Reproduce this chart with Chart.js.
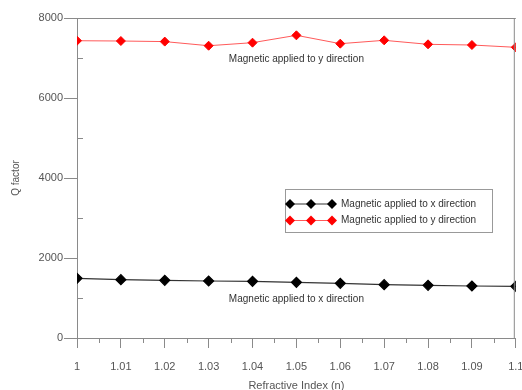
<!DOCTYPE html>
<html>
<head>
<meta charset="utf-8">
<script src="https://cdn.jsdelivr.net/npm/chart.js@4"></script>
<style>
  html, body { margin: 0; padding: 0; background: #fff; }
  #chart { display: block; }
</style>
</head>
<body>
<canvas id="chart" width="522" height="390"></canvas>
<script>
// Data
const refractiveIndex = [1, 1.01, 1.02, 1.03, 1.04, 1.05, 1.06, 1.07, 1.08, 1.09, 1.1];
const qFactorX = [1492, 1458, 1442, 1425, 1417, 1392, 1367, 1333, 1317, 1300, 1292];
const qFactorY = [7432, 7425, 7410, 7307, 7383, 7567, 7358, 7442, 7342, 7325, 7267];
const seriesLabels = ['Magnetic applied to x direction', 'Magnetic applied to y direction'];
const seriesColors = ['#000000', '#ff0000'];
const yMajorTicks = [0, 2000, 4000, 6000, 8000];
const yMinorTicks = [1000, 3000, 5000, 7000];
const xMinorTicks = [1.005, 1.015, 1.025, 1.035, 1.045, 1.055, 1.065, 1.075, 1.085, 1.095];
// annotations: [x value, y value, text]
const notes = [
    [1.05, 6970, 'Magnetic applied to y direction'],
    [1.05, 965, 'Magnetic applied to x direction']
];

const axisColor = '#8a8a8a';
const textColor = '#555';
const fontFamily = '"Liberation Sans", Arial, sans-serif';

function toPoints(ys) {
    return refractiveIndex.map((n, i) => ({ x: n, y: ys[i] }));
}

// Minor ticks, box edges, in-plot notes and the boxed legend
const decor = {
    id: 'decor',
    afterDraw(chart) {
        const ctx = chart.ctx;
        const area = chart.chartArea;
        const xs = chart.scales.x;
        const ys = chart.scales.y;
        ctx.save();
        ctx.strokeStyle = axisColor;
        ctx.lineWidth = 1;

        // top and right edges of the frame
        ctx.beginPath();
        ctx.moveTo(area.left, area.top + 0.5);
        ctx.lineTo(area.right, area.top + 0.5);
        ctx.moveTo(area.right - 1.5, area.top);
        ctx.lineTo(area.right - 1.5, area.bottom);
        ctx.stroke();

        // minor ticks
        ctx.beginPath();
        xMinorTicks.forEach(v => {
            const px = Math.round(xs.getPixelForValue(v)) + 0.5;
            ctx.moveTo(px, area.bottom);
            ctx.lineTo(px, area.bottom + 5);
        });
        yMinorTicks.forEach(v => {
            const py = Math.round(ys.getPixelForValue(v)) + 0.5;
            ctx.moveTo(area.left, py);
            ctx.lineTo(area.left + 6, py);
        });
        ctx.stroke();

        // in-plot notes
        ctx.fillStyle = '#333';
        ctx.font = '10px ' + fontFamily;
        ctx.textAlign = 'center';
        ctx.textBaseline = 'middle';
        notes.forEach(([nx, ny, text]) => {
            ctx.fillText(text, xs.getPixelForValue(nx), ys.getPixelForValue(ny));
        });

        // legend box
        const bx = 285, by = 189, bw = 207, bh = 43;
        ctx.strokeStyle = '#999';
        ctx.strokeRect(bx + 0.5, by + 0.5, bw, bh);
        ctx.textAlign = 'left';
        chart.data.datasets.forEach((ds, i) => {
            const rowY = 204 + i * 16.5;
            ctx.strokeStyle = ds.borderColor;
            ctx.beginPath();
            ctx.moveTo(290, rowY);
            ctx.lineTo(332, rowY);
            ctx.stroke();
            ctx.fillStyle = ds.pointBackgroundColor;
            [290, 311, 332].forEach(mx => {
                ctx.beginPath();
                ctx.moveTo(mx, rowY - 5);
                ctx.lineTo(mx + 5, rowY);
                ctx.lineTo(mx, rowY + 5);
                ctx.lineTo(mx - 5, rowY);
                ctx.closePath();
                ctx.fill();
            });
            ctx.fillStyle = '#333';
            ctx.fillText(ds.label, 341, rowY);
        });
        ctx.restore();
    }
};

const chart = new Chart(document.getElementById('chart').getContext('2d'), {
    type: 'line',
    data: {
        datasets: [
            {
                label: seriesLabels[0],
                data: toPoints(qFactorX),
                borderColor: '#333333',
                borderWidth: 1.2,
                pointBackgroundColor: seriesColors[0],
                pointBorderColor: seriesColors[0],
                pointStyle: 'rectRot',
                pointRadius: 5,
                tension: 0
            },
            {
                label: seriesLabels[1],
                data: toPoints(qFactorY),
                borderColor: '#ff5a5a',
                borderWidth: 1,
                pointBackgroundColor: seriesColors[1],
                pointBorderColor: seriesColors[1],
                pointStyle: 'rectRot',
                pointRadius: 4.5,
                tension: 0
            }
        ]
    },
    options: {
        responsive: false,
        animation: false,
        layout: { padding: { top: 18, right: 1, left: 0, bottom: 0 } },
        plugins: {
            legend: { display: false },
            tooltip: { enabled: false }
        },
        scales: {
            x: {
                type: 'linear',
                min: 1,
                max: 1.1,
                afterFit: s => { s.height = 52; s.paddingLeft = 0; s.paddingRight = 0; },
                afterBuildTicks: s => { s.ticks = refractiveIndex.map(v => ({ value: v })); },
                border: { color: axisColor, width: 1 },
                grid: { drawOnChartArea: false, tickLength: 10, tickColor: axisColor },
                ticks: {
                    color: textColor,
                    font: { family: fontFamily, size: 11 },
                    padding: 12,
                    maxRotation: 0,
                    autoSkip: false,
                    callback: v => String(Number(v.toFixed(2)))
                },
                title: {
                    display: true,
                    text: 'Refractive Index (n)',
                    color: textColor,
                    font: { family: fontFamily, size: 11 },
                    padding: { top: 0, bottom: -3 }
                }
            },
            y: {
                min: 0,
                max: 8000,
                afterFit: s => { s.width = 77; s.paddingTop = 0; s.paddingBottom = 0; },
                afterBuildTicks: s => { s.ticks = yMajorTicks.map(v => ({ value: v })); },
                border: { color: axisColor, width: 1 },
                grid: { drawOnChartArea: false, tickLength: 13, tickColor: axisColor },
                ticks: {
                    color: textColor,
                    font: { family: fontFamily, size: 11 },
                    padding: 1,
                    callback: v => String(v)
                },
                title: {
                    display: true,
                    text: 'Q factor',
                    color: textColor,
                    font: { family: fontFamily, size: 10 },
                    padding: { top: 10, bottom: 0 }
                }
            }
        }
    },
    plugins: [decor]
});
</script>
</body>
</html>
